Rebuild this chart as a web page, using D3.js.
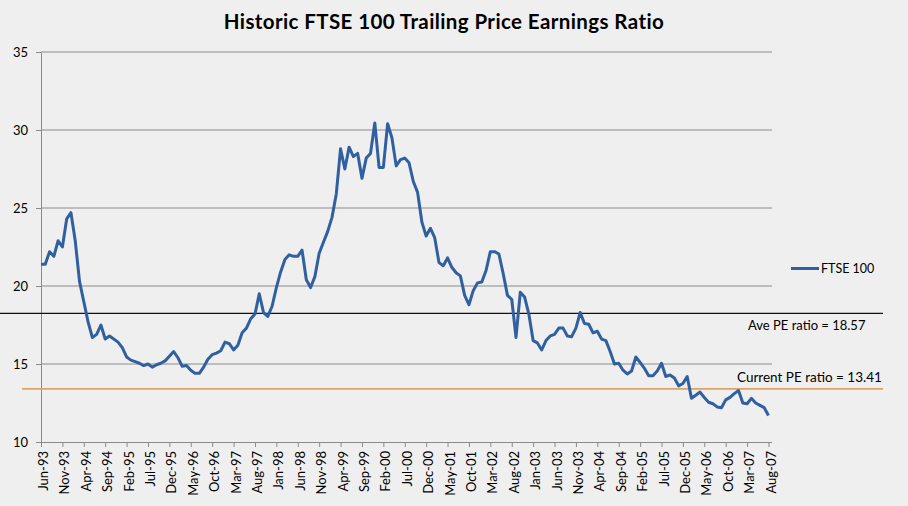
<!DOCTYPE html>
<html>
<head>
<meta charset="utf-8">
<script src="https://cdn.jsdelivr.net/npm/d3@7"></script>
<style>
  html, body { margin: 0; padding: 0; background: #efefef; }
  text { font-family: Lato, "Open Sans", sans-serif; fill: #000; }
</style>
</head>
<body>
<div id="graph"></div>
<script>
// monthly trailing PE, Jun-93 .. Aug-07
const peValues = [
    21.4, 21.4, 22.2, 21.9, 22.9, 22.5, 24.3, 24.7, 22.9, 20.3,
    19.0, 17.7, 16.7, 16.9, 17.5, 16.6, 16.8, 16.6, 16.4, 16.05,
    15.45, 15.25, 15.15, 15.05, 14.9, 15.0, 14.8, 14.95, 15.05, 15.2,
    15.5, 15.8, 15.4, 14.85, 14.9, 14.6, 14.4, 14.4, 14.8, 15.3,
    15.6, 15.7, 15.85, 16.4, 16.3, 15.9, 16.2, 17.0, 17.3, 17.9,
    18.2, 19.5, 18.3, 18.05, 18.7, 19.9, 20.9, 21.7, 22.0, 21.9,
    21.9, 22.3, 20.4, 19.9, 20.6, 22.1, 22.8, 23.5, 24.4, 25.9,
    28.8, 27.5, 28.9, 28.3, 28.5, 26.9, 28.2, 28.5, 30.45, 27.6,
    27.6, 30.4, 29.5, 27.7, 28.1, 28.2, 27.9, 26.7, 26.0, 24.1,
    23.2, 23.7, 23.1, 21.5, 21.3, 21.8, 21.2, 20.85, 20.65, 19.4,
    18.8, 19.7, 20.2, 20.25, 21.0, 22.2, 22.2, 22.05, 20.8, 19.4,
    19.15, 16.7, 19.6, 19.3, 18.2, 16.5, 16.35, 15.9, 16.5, 16.8,
    16.9, 17.3, 17.3, 16.8, 16.75, 17.3, 18.3, 17.6, 17.55, 17.0,
    17.1, 16.6, 16.5, 15.8, 15.0, 15.05, 14.6, 14.36, 14.55, 15.45,
    15.1, 14.72, 14.25, 14.25, 14.55, 15.05, 14.2, 14.3, 14.1, 13.6,
    13.75, 14.2, 12.8, 13.0, 13.2, 12.85, 12.55, 12.45, 12.25, 12.2,
    12.7, 12.86, 13.1, 13.3, 12.5, 12.45, 12.8, 12.5, 12.35, 12.2,
    11.7
]

const tickLabels = [
    'Jun-93', 'Nov-93', 'Apr-94', 'Sep-94', 'Feb-95', 'Jul-95', 'Dec-95',
    'May-96', 'Oct-96', 'Mar-97', 'Aug-97', 'Jan-98', 'Jun-98', 'Nov-98',
    'Apr-99', 'Sep-99', 'Feb-00', 'Jul-00', 'Dec-00', 'May-01', 'Oct-01',
    'Mar-02', 'Aug-02', 'Jan-03', 'Jun-03', 'Nov-03', 'Apr-04', 'Sep-04',
    'Feb-05', 'Jul-05', 'Dec-05', 'May-06', 'Oct-06', 'Mar-07', 'Aug-07'
]

const yTicks = [10, 15, 20, 25, 30, 35]

const avePE = 18.57
const aveLineLevel = 18.25   // where the drawn line actually sits
const currentPE = 13.41

// categories: one label per month
const fmt = d3.timeFormat('%b-%y')
const categories = d3.timeMonth.range(new Date(1993, 5, 1), new Date(2007, 8, 1)).map(fmt)
const data = peValues.map((v, i) => ({ cat: categories[i], value: v }))

const width = 908, height = 506
const plot = { left: 41, right: 772, top: 52, bottom: 442 }

const svg = d3.select('div#graph')
    .append('svg')
        .attr('width', width)
        .attr('height', height)

svg.append('rect')
    .attr('width', width).attr('height', height)
    .attr('fill', '#efefef')

const xScale = d3.scalePoint()
    .domain(categories)
    .range([plot.left, 768.5])

const yScale = d3.scaleLinear()
    .domain([10, 35])
    .range([plot.bottom, plot.top])

// gridlines
svg.append('g')
    .selectAll('line')
    .data(yTicks.slice(1)).enter()
    .append('line')
        .attr('x1', plot.left).attr('x2', plot.right)
        .attr('y1', d => yScale(d)).attr('y2', d => yScale(d))
        .attr('stroke', '#8a8a8a')
        .attr('stroke-width', 1)

// y axis
const yAxis = svg.append('g')
        .attr('transform', `translate(${plot.left},0)`)
    .call(d3.axisLeft(yScale).tickValues(yTicks).tickSize(5).tickSizeOuter(0))
yAxis.select('.domain').attr('stroke', '#8a8a8a')
yAxis.selectAll('.tick line').attr('stroke', '#8a8a8a')
yAxis.selectAll('.tick text')
    .attr('x', -13)
    .style('font-size', '13px')
    .style('font-family', 'Lato, sans-serif')
    .attr('fill', '#000')

// x axis
const xAxis = svg.append('g')
        .attr('transform', `translate(0,${plot.bottom})`)
    .call(d3.axisBottom(xScale).tickValues(tickLabels).tickSize(5).tickSizeOuter(0))
xAxis.select('.domain').attr('d', `M${plot.left},0.5H${plot.right}`).attr('stroke', '#8a8a8a')
xAxis.selectAll('.tick line').attr('stroke', '#8a8a8a')
xAxis.selectAll('.tick text')
    .attr('transform', 'rotate(-90)')
    .attr('text-anchor', 'end')
    .attr('x', -9)
    .attr('y', 2)
    .attr('dy', '0.35em')
    .style('font-size', '13px')
    .style('font-family', 'Lato, sans-serif')
    .attr('fill', '#000')

// reference lines
svg.append('line')
    .attr('x1', 0).attr('x2', 883)
    .attr('y1', yScale(aveLineLevel)).attr('y2', yScale(aveLineLevel))
    .attr('stroke', '#111')
    .attr('stroke-width', 1.3)

svg.append('line')
    .attr('x1', 22).attr('x2', 883)
    .attr('y1', yScale(currentPE)).attr('y2', yScale(currentPE))
    .attr('stroke', '#dba36a')
    .attr('stroke-width', 1.8)

// series
const line = d3.line()
    .x(d => xScale(d.cat))
    .y(d => yScale(d.value))

svg.append('path')
    .datum(data)
        .attr('d', line)
        .attr('fill', 'none')
        .attr('stroke', '#30609f')
        .attr('stroke-width', 3)
        .attr('stroke-linejoin', 'round')

// legend
svg.append('line')
    .attr('x1', 791).attr('x2', 819)
    .attr('y1', 268.5).attr('y2', 268.5)
    .attr('stroke', '#30609f')
    .attr('stroke-width', 3)
svg.append('text')
    .attr('x', 821).attr('y', 273)
    .style('font-size', '12.5px')
    .text('FTSE 100')

// annotations
svg.append('text')
    .attr('x', 748).attr('y', 330)
    .style('font-size', '13px')
    .text(`Ave PE ratio = ${avePE}`)

svg.append('text')
    .attr('x', 737).attr('y', 382)
    .style('font-size', '13.5px')
    .text(`Current PE ratio = ${currentPE}`)

// title
svg.append('text')
    .attr('x', 444).attr('y', 29)
    .attr('text-anchor', 'middle')
    .style('font-size', '20.5px')
    .style('font-weight', 'bold')
    .style('letter-spacing', '0.4px')
    .text('Historic FTSE 100 Trailing Price Earnings Ratio')
</script>
</body>
</html>
